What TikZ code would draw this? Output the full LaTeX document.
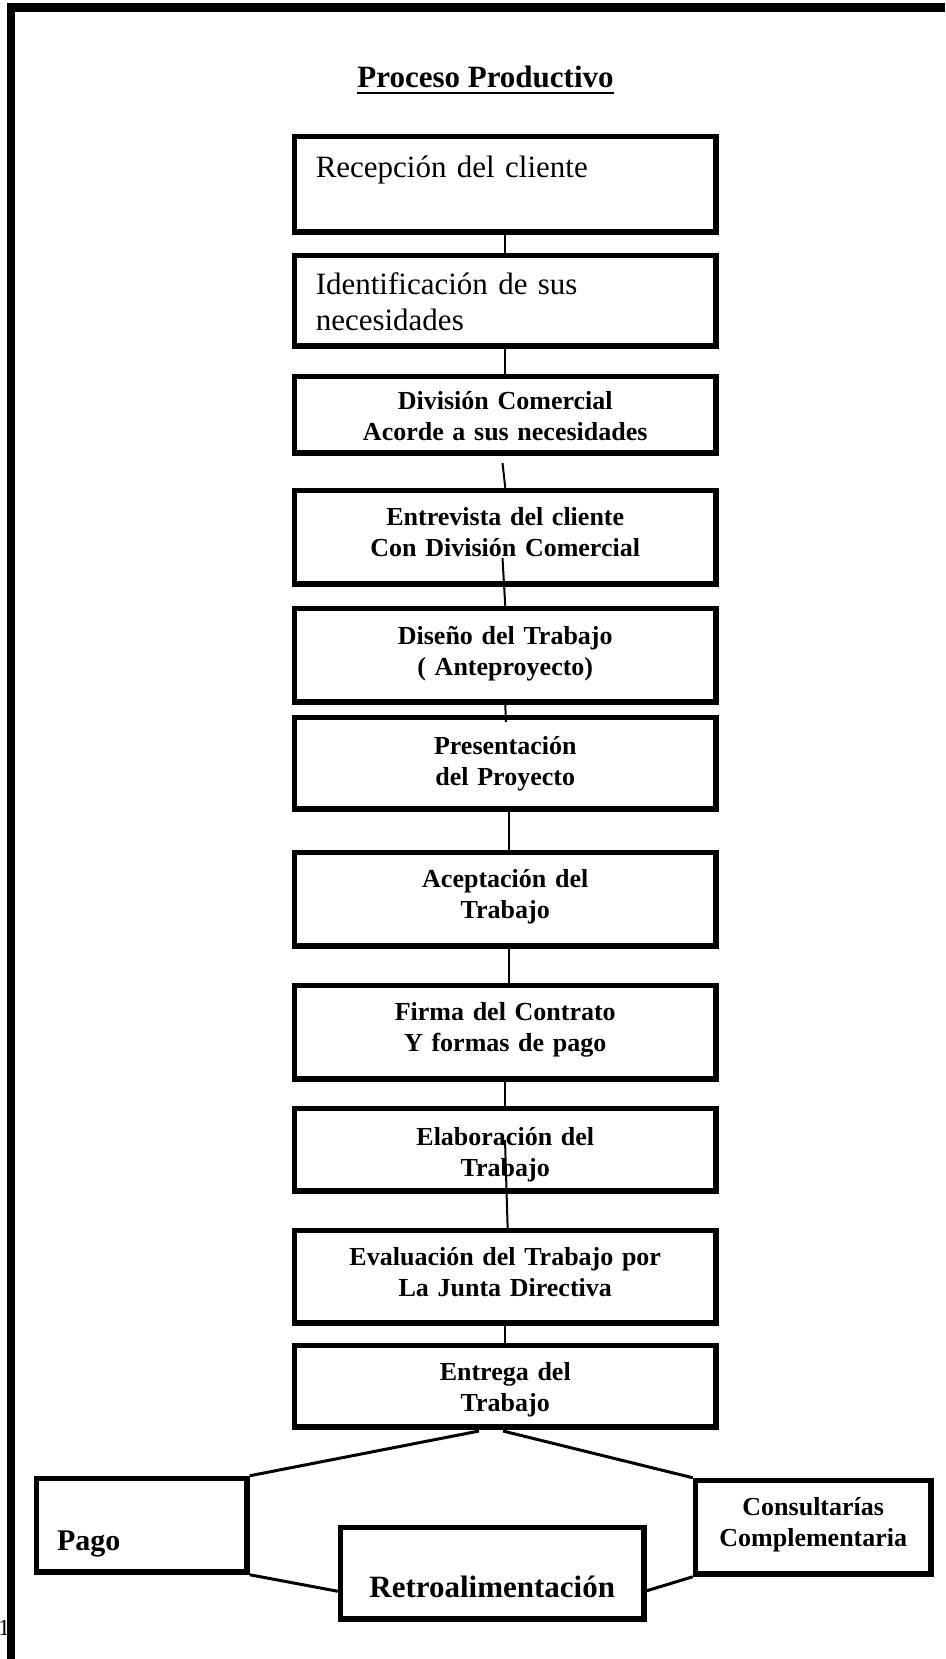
\documentclass[tikz,border=0pt]{standalone}
\usepackage{fontspec}
\setmainfont{Liberation Serif}
\begin{document}
\begin{tikzpicture}[x=1pt,y=-1pt,
  boxbase/.style={draw, line width=5.5pt, anchor=north west, inner ysep=0pt,
    inner xsep=0pt, text width=421.5pt, align=center,
    font=\bfseries\fontsize{26}{31}\selectfont},
  plainbox/.style={boxbase, inner xsep=21.25pt, text width=379pt, align=left,
    font=\fontsize{31}{36}\selectfont},
  conn/.style={line width=2pt},
  fork/.style={line width=3pt},
  frame/.style={line width=#1}]
\useasboundingbox (0,0) rectangle (945,1659);
\fill[white] (0,0) rectangle (945,1659);

% page number peeking out at the left edge
\node[font=\fontsize{23}{26}\selectfont, anchor=base east, inner sep=0pt] (pgnum) at (10,1635) {1};

% page frame (top and left rules)
\draw[frame=9pt] (7,8) -- (945,8);
\draw[frame=7.5pt] (10.75,3) -- (10.75,1659);

% title
\node[font=\bfseries\fontsize{31}{36}\selectfont, inner sep=0pt, anchor=base] (title) at (485.5,88) {Proceso Productivo};
\draw[line width=2.6pt] ([yshift=-5pt]title.base west) -- ([yshift=-5pt]title.base east);

% main column of steps
\node[plainbox, text height=41.25pt, text depth=54.25pt] (b1) at (291.75,133.75) {Recepción del cliente};
\node[plainbox, text height=39.25pt, text depth=51.25pt] (b2) at (291.75,252.75) {Identificación de sus\\necesidades};
\node[boxbase, text height=33.25pt, text depth=43.25pt] (b3) at (291.75,373.75) {División Comercial\\Acorde a sus necesidades};
\node[boxbase, text height=35.25pt, text depth=58.25pt] (b4) at (291.75,487.75) {Entrevista del cliente\\Con División Comercial};
\node[boxbase, text height=36.25pt, text depth=57.25pt] (b5) at (291.75,605.75) {Diseño del Trabajo\\( Anteproyecto)};
\node[boxbase, text height=37.25pt, text depth=54.25pt] (b6) at (291.75,714.75) {Presentación\\del Proyecto};
\node[boxbase, text height=35.25pt, text depth=58.25pt] (b7) at (291.75,849.75) {Aceptación del\\Trabajo};
\node[boxbase, text height=35.25pt, text depth=58.25pt] (b8) at (291.75,982.75) {Firma del Contrato\\Y formas de pago};
\node[boxbase, text height=37.25pt, text depth=45.25pt] (b9) at (291.75,1105.75) {Elaboración del\\Trabajo};
\node[boxbase, text height=35.25pt, text depth=57.25pt] (b10) at (291.75,1227.75) {Evaluación del Trabajo por\\La Junta Directiva};
\node[boxbase, text height=35.25pt, text depth=46.25pt] (b11) at (291.75,1342.75) {Entrega del\\Trabajo};

% closing boxes
\node[boxbase, text width=187.25pt, inner xsep=11.625pt, align=left,
  font=\bfseries\fontsize{30}{34}\selectfont, text height=72.25pt, text depth=21.25pt] (pago) at (33.75,1475.75) {\hspace*{9pt}Pago};
\node[boxbase, text width=303.5pt, font=\bfseries\fontsize{31}{36}\selectfont,
  text height=70.25pt, text depth=21.25pt] (retro) at (337.75,1524.75) {Retroalimentación\hspace*{10pt}};
\node[boxbase, text width=235.5pt, text height=35.25pt, text depth=58.25pt] (cons) at (692.75,1477.75) {Consultarías\\Complementaria};

% connector end points that stop short of, or run into, a box
\coordinate (c34) at (502.5,463);
\coordinate (c45) at (502.5,558);
\coordinate (c56) at (506,722);
\coordinate (c9) at (505,1140);
\coordinate (fl) at (479,1431);
\coordinate (fr) at (503,1431);

% connectors
\draw[conn] (b1.south) -- (b2.north);
\draw[conn] (b2.south) -- (b3.north);
\draw[conn] (c34) -- (b4.north);
\draw[conn] (c45) -- (b5.north);
\draw[conn] (b5.south) -- (c56);
\draw[conn] ([xshift=3.5pt]b6.south) -- ([xshift=3.5pt]b7.north);
\draw[conn] ([xshift=3.5pt]b7.south) -- ([xshift=3.5pt]b8.north);
\draw[conn] (b8.south) -- (b9.north);
\draw[conn] (c9) -- ([xshift=2.5pt,yshift=-4pt]b10.north);
\draw[conn] (b10.south) -- (b11.north);

\draw[fork] (fl) -- (pago.north east);
\draw[fork] (fr) -- (cons.north west);
\draw[fork] (pago.south east) -- ([yshift=-18pt]retro.west);
\draw[fork] ([yshift=-17.5pt]retro.east) -- (cons.south west);
\end{tikzpicture}
\end{document}
